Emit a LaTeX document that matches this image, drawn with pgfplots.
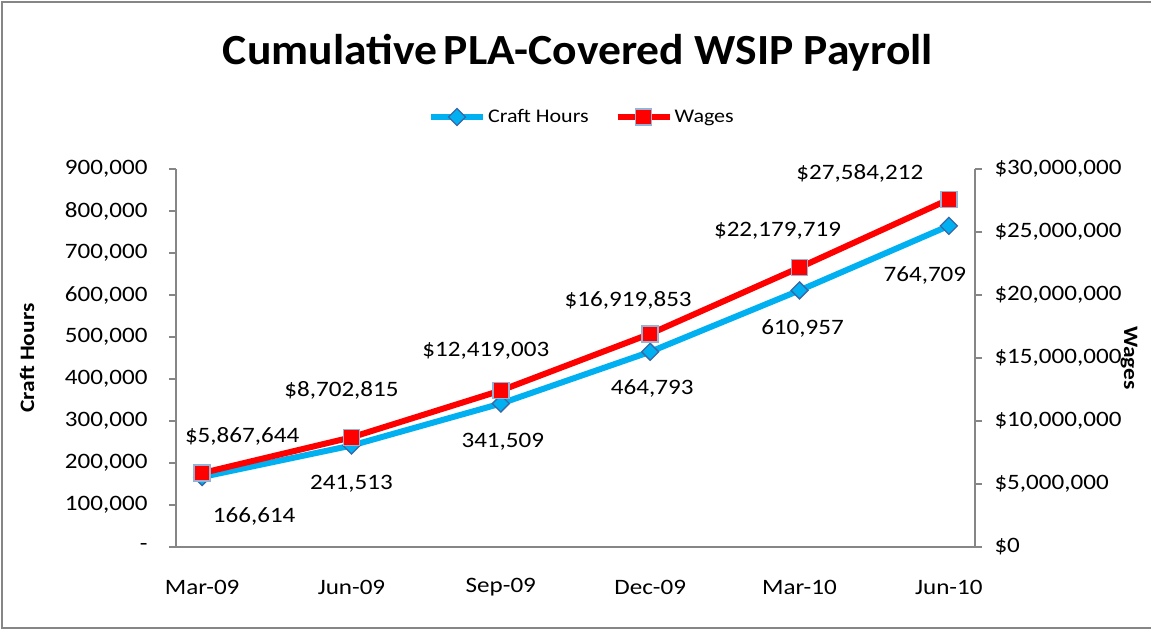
\documentclass[border=0pt]{standalone}
\usepackage{fontspec}
\setmainfont{Carlito}[FakeStretch=1.14]
\newfontfamily\titlefont{Carlito}[FakeStretch=1.06]
\usepackage{pgfplots}
\usepackage{pgfplotstable}
\pgfplotsset{compat=1.18}
\definecolor{craft}{RGB}{0,176,240}
\definecolor{craftedge}{RGB}{56,104,168}
\definecolor{wage}{RGB}{255,0,0}
\definecolor{wageedge}{RGB}{149,179,215}
\definecolor{axisgray}{RGB}{134,134,134}

\pgfplotstableread{
x y dx dy lab
0 166614 52 -39 166,614
1 241513 0 -38 241,513
2 341509 2 -38 341,509
3 464793 2 -37 464,793
4 610957 3 -38 610,957
5 764709 -24 -50 764,709
}\crafttable

\pgfplotstableread{
x y dx dy lab
0 5867644 40 37 \$5,867,644
1 8702815 -10 47 \$8,702,815
2 12419003 -15 40 \$12,419,003
3 16919853 -22 33 \$16,919,853
4 22179719 -22 37 \$22,179,719
5 27584212 -89 26 \$27,584,212
}\wagetable

\newcommand{\tickfont}{\fontsize{22bp}{26bp}\selectfont}
\newcommand{\legfont}{\fontsize{19.3bp}{23bp}\selectfont}
\newcommand{\labfont}{\fontsize{20.5bp}{24bp}\selectfont\bfseries}

\pgfplotsset{
  common/.style={
    at={(176bp,83bp)}, anchor=south west,
    scale only axis, width=799bp, height=378bp,
    xmin=-0.175, xmax=5.175,
    clip=false,
    tick align=outside,
    major tick length=7bp,
    axis line style={axisgray, line width=1.5bp},
    every tick/.style={axisgray, line width=1.5bp},
    tick label style={font=\tickfont, text=black},
    scaled y ticks=false,
  },
  lineleg/.style={
    legend image code/.code={
      \draw[mark repeat=2,mark phase=2,##1] plot coordinates {(0bp,0bp) (26bp,0bp) (52bp,0bp)};
    }
  },
}

\begin{document}
\begin{tikzpicture}
\useasboundingbox (0,0) rectangle (1151bp,630bp);
\draw[axisgray, line width=1.5bp] (1152bp,628bp) -- (2bp,628bp) -- (2bp,2bp) -- (1152bp,2bp);

\node[anchor=base, font=\titlefont\fontsize{43bp}{47bp}\selectfont\bfseries] at (578bp,565bp)
  {Cumulative\hspace{0.16em}PLA-Covered WSIP Payroll};

\begin{axis}[common,
  ymin=0, ymax=900000,
  axis lines*=left,
  xtick={0,1,2,3,4,5},
  xticklabels={Mar-09,Jun-09,Sep-09,Dec-09,Mar-10,Jun-10},
  x tick style={draw=none},
  xticklabel style={anchor=center, yshift=-33bp},
  ytick={0,100000,200000,300000,400000,500000,600000,700000,800000,900000},
  yticklabels={-,{100,000},{200,000},{300,000},{400,000},{500,000},{600,000},{700,000},{800,000},{900,000}},
  yticklabel style={anchor=east, xshift=-18bp},
  ylabel={Craft Hours},
  ylabel style={at={(axis description cs:-0.1865,0.5)}, anchor=center, font=\labfont},
]
\addplot[color=craft, line width=6bp, mark=square*,
  mark size=6bp,
  mark options={rotate=45, fill=craft, draw=craftedge, line width=1.3bp},
  nodes near coords, point meta=explicit symbolic,
  visualization depends on={\thisrow{dx} \as \dx},
  visualization depends on={\thisrow{dy} \as \dy},
  every node near coord/.append style={anchor=center, xshift=\dx*1bp, yshift=\dy*1bp, font=\tickfont, text=black},
] table[x=x, y=y, meta=lab] {\crafttable};
\end{axis}

\begin{axis}[common, lineleg,
  ymin=0, ymax=30000000,
  axis x line=none,
  axis y line*=right,
  ytick={0,5000000,10000000,15000000,20000000,25000000,30000000},
  yticklabels={\$0,{\$5,000,000},{\$10,000,000},{\$15,000,000},{\$20,000,000},{\$25,000,000},{\$30,000,000}},
  yticklabel style={anchor=west, xshift=9bp},
  ylabel={Wages},
  ylabel style={at={(axis description cs:1.1927,0.5)}, anchor=center, rotate=180, font=\labfont},
  legend columns=2,
  legend style={at={(0.508,1.1376)}, anchor=center, draw=none, fill=none,
    font=\legfont, /tikz/every even column/.append style={column sep=24bp}},
]
\addlegendimage{color=craft, line width=6bp, mark=square*, mark size=6bp,
  mark options={rotate=45, fill=craft, draw=craftedge, line width=1.3bp}}
\addlegendentry{Craft Hours}
\addplot[color=wage, line width=6bp, mark=square*,
  mark size=8bp,
  mark options={fill=wage, draw=wageedge, line width=1.5bp},
  nodes near coords, point meta=explicit symbolic,
  visualization depends on={\thisrow{dx} \as \dx},
  visualization depends on={\thisrow{dy} \as \dy},
  every node near coord/.append style={anchor=center, xshift=\dx*1bp, yshift=\dy*1bp, font=\tickfont, text=black},
] table[x=x, y=y, meta=lab] {\wagetable};
\addlegendentry{Wages}
\end{axis}
\end{tikzpicture}
\end{document}
